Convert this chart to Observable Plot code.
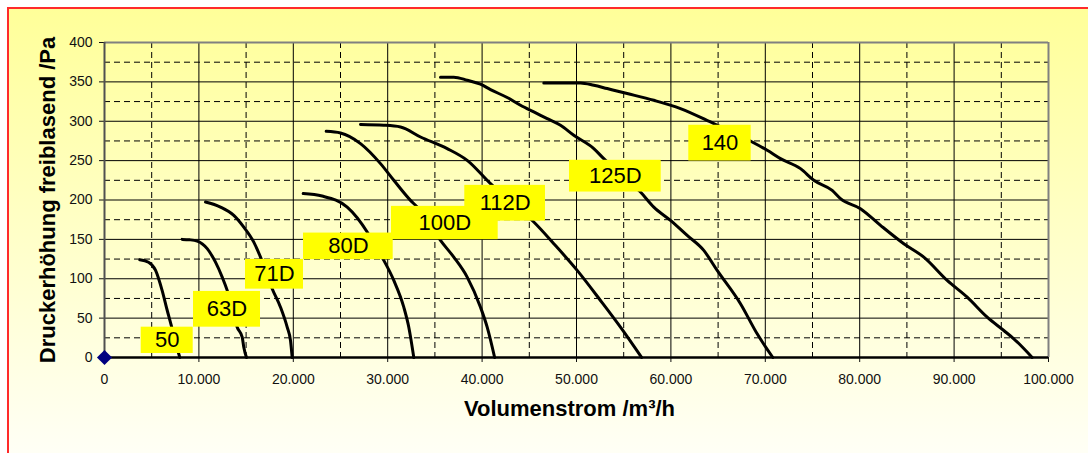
<!DOCTYPE html>
<html><head><meta charset="utf-8">
<script src="https://cdn.jsdelivr.net/npm/d3@7"></script>
<script src="https://cdn.jsdelivr.net/npm/@observablehq/plot@0.6"></script>
<style>
html,body{margin:0;padding:0;background:#fff;}
#wrap{position:relative;width:1088px;height:453px;overflow:hidden;}
#bg{position:absolute;left:7px;top:7px;width:1200px;height:600px;border-left:2px solid #ff2a2a;border-top:2px solid #ff2a2a;background:linear-gradient(#ffff99 0px, #fffff6 446px);}
#chart{position:absolute;left:0;top:0;}
</style></head>
<body><div id="wrap"><div id="bg"></div><div id="chart"></div></div>
<script>
// ---- data: fan curves (Volumenstrom m3/h, Druckerhöhung Pa) ----
const fans = ["50","63D","71D","80D","100D","112D","125D","140"];
const flow50  = [3740, 4660, 5400, 6110, 6640, 7065, 7500, 7980];
const press50 = [124, 121, 111, 85, 60, 41, 20, 0];
const flow63  = [8231, 9000, 9820, 10879, 11758, 12468, 12998, 13550, 14057, 14587, 14756, 15042];
const press63 = [150, 149.5, 147.8, 138.2, 121.1, 102.1, 85.2, 62, 38.5, 25.8, 13.1, 0];
const flow71  = [10699, 12288, 13697, 14756, 15815, 16525, 17150, 17764, 18644, 19353, 19703, 19883];
const press71 = [197.4, 191, 180.5, 165.6, 146.5, 127.5, 107, 87.3, 63.9, 38.5, 21.6, 0];
const flow80  = [21048, 23050, 25709, 27828, 28700, 29587, 30646, 31705, 32235, 32764];
const press80 = [208.1, 205, 191, 159.3, 141, 123.3, 97.9, 63.9, 38.5, 0];
const flow100  = [23485, 25000, 27118, 29237, 30646, 32414, 33124, 34400, 35592, 37001, 38421, 39830, 40539, 41330];
const press100 = [287.2, 285.1, 271.6, 246.2, 225, 199.5, 191, 170, 148.7, 127.5, 102.1, 63.9, 38.5, 0];
const flow112  = [27118, 29587, 31356, 33474, 36302, 38421, 40889, 43200, 45476, 47594, 50073, 52540, 54659, 56900];
const press112 = [295.8, 294.9, 292.7, 280, 265.3, 250.4, 220.8, 196, 172, 144.5, 110.6, 72.4, 38.5, 0];
const flow125  = [35592, 37001, 38421, 39830, 40889, 42658, 44067, 45476, 46896, 48304, 49713, 51832, 52890, 54800, 56777, 58187, 59955, 61725, 63483, 64902, 67370, 69139, 70800];
const press125 = [356, 356, 352.1, 347, 340.2, 330.1, 320.3, 311.8, 303.4, 294.9, 282.2, 265.3, 252.5, 232, 210.1, 191, 174.1, 155, 136, 110.6, 68.3, 30.1, 0];
const flow140  = [46535, 50423, 51832, 53251, 55370, 58187, 61015, 64543, 66500, 68611, 70201, 71609, 73728, 75137, 77086, 77965, 80083, 82202, 84670, 86789, 89267, 91386, 93504, 95264, 96323, 98272];
const press140 = [348.6, 348.6, 345.7, 341.5, 335.2, 326.6, 316.1, 297, 286, 273.6, 263.1, 252.5, 239.8, 225, 212.2, 201.7, 189, 167.8, 144.5, 127.5, 97.9, 76.6, 51.2, 34.3, 23.8, 0];

// label boxes in data units
const labelX1 = [3888, 9428, 14936, 21080, 30402, 38166, 49257, 61895];
const labelX2 = [9396, 16525, 21080, 30582, 41705, 46715, 58971, 68505];
const labelY1 = [5.1, 38.5, 86.8, 124.2, 149.6, 173.2, 210.1, 249.5];
const labelY2 = [38.5, 83.9, 124.6, 158, 191.9, 218.6, 250.4, 294.9];
// draw order of label boxes (112D under 100D)
const labelOrder = [0, 1, 2, 3, 5, 4, 6, 7];

// axes
const xTicks = [0, 10000, 20000, 30000, 40000, 50000, 60000, 70000, 80000, 90000, 100000];
const xTickLabels = ["0","10.000","20.000","30.000","40.000","50.000","60.000","70.000","80.000","90.000","100.000"];
const yTicks = [0, 50, 100, 150, 200, 250, 300, 350, 400];
const yTickLabels = ["0","50","100","150","200","250","300","350","400"];
const xMinor = [5000, 15000, 25000, 35000, 45000, 55000, 65000, 75000, 85000, 95000];
const yMinor = [25, 75, 125, 175, 225, 275, 325, 375];
const xMajor = [10000, 20000, 30000, 40000, 50000, 60000, 70000, 80000, 90000];
const yMajor = [50, 100, 150, 200, 250, 300, 350];
const xTitle = "Volumenstrom /m³/h";
const yTitle = "Druckerhöhung freiblasend /Pa";

const flows = [flow50, flow63, flow71, flow80, flow100, flow112, flow125, flow140];
const presses = [press50, press63, press71, press80, press100, press112, press125, press140];
const curves = fans.flatMap((f, k) => flows[k].map((q, i) => ({fan: f, q, p: presses[k][i]})));
const labels = labelOrder.map(i => ({name: fans[i], x1: labelX1[i], x2: labelX2[i], y1: labelY1[i], y2: labelY2[i]}));

const font = "Liberation Sans, Arial, Helvetica, sans-serif";
const chart = Plot.plot({
  width: 1088,
  height: 453,
  marginLeft: 104,
  marginRight: 40,
  marginTop: 42,
  marginBottom: 96,
  style: {background: "transparent", fontFamily: font, fontSize: "14px", color: "#111", overflow: "visible"},
  x: {domain: [0, 100000], ticks: xTicks, tickFormat: d => xTickLabels[xTicks.indexOf(d)], tickSize: 5, tickPadding: 12, label: null},
  y: {domain: [0, 400], ticks: yTicks, tickFormat: d => yTickLabels[yTicks.indexOf(d)], tickSize: 5, tickPadding: 7, label: null},
  marks: [
    Plot.ruleY(yMinor, {stroke: "#000", strokeWidth: 1, strokeDasharray: "6,4"}),
    Plot.ruleX(xMinor, {stroke: "#000", strokeWidth: 1, strokeDasharray: "6,4"}),
    Plot.ruleY(yMajor, {stroke: "#000", strokeWidth: 1}),
    Plot.ruleX(xMajor, {stroke: "#000", strokeWidth: 1}),
    Plot.ruleY([400], {stroke: "#808080", strokeWidth: 2}),
    Plot.ruleX([100000], {stroke: "#808080", strokeWidth: 2}),
    Plot.ruleX([0], {stroke: "#505050", strokeWidth: 2}),
    Plot.line(curves, {x: "q", y: "p", z: "fan", stroke: "#000", strokeWidth: 3, curve: "monotone-x", strokeLinecap: "round"}),
    Plot.ruleY([0], {stroke: "#000", strokeWidth: 2.5}),
    Plot.rect(labels, {x1: "x1", x2: "x2", y1: "y1", y2: "y2", fill: "#ffff00"}),
    Plot.text(labels, {x: d => (d.x1 + d.x2) / 2, y: d => (d.y1 + d.y2) / 2, text: "name", fontSize: 22, fill: "#000", fontFamily: font}),
    Plot.dot([{q: 0, p: 0}], {x: "q", y: "p", symbol: "diamond2", r: 6.8, fill: "#000080", stroke: "none"}),
    Plot.text([yTitle], {frameAnchor: "left", dx: -57, rotate: -90, textAnchor: "middle", fontSize: 22, fontWeight: "bold", fill: "#000", fontFamily: font}),
    Plot.text([xTitle], {frameAnchor: "bottom", dx: -7, dy: 58, textAnchor: "middle", fontSize: 22, fontWeight: "bold", fill: "#000", fontFamily: font})
  ]
});
document.getElementById("chart").appendChild(chart);
</script>
</body></html>
